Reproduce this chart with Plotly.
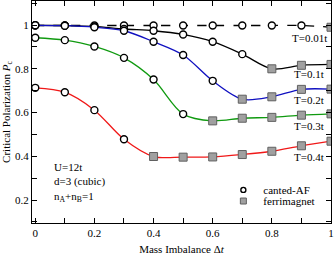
import plotly.graph_objects as go

# ---- data ----
dt = [0.0, 0.1, 0.2, 0.3, 0.4, 0.5, 0.6, 0.7, 0.8, 0.9, 1.0]
T_labels = ["T=0.01t", "T=0.1t", "T=0.2t", "T=0.3t", "T=0.4t"]
pc_T001 = [0.998, 0.998, 0.998, 0.998, 0.998, 0.998, 0.998, 0.998, 0.998, 0.998, 0.990]
pc_T01 = [0.999, 0.998, 0.994, 0.982, 0.974, 0.957, 0.924, 0.867, 0.800, 0.816, 0.820]
pc_T02 = [0.999, 0.997, 0.990, 0.974, 0.924, 0.863, 0.745, 0.661, 0.672, 0.706, 0.707]
pc_T03 = [0.942, 0.931, 0.902, 0.850, 0.751, 0.593, 0.562, 0.574, 0.578, 0.588, 0.594]
pc_T04 = [0.713, 0.693, 0.611, 0.478, 0.399, 0.396, 0.397, 0.408, 0.423, 0.448, 0.469]
# index of first ferrimagnet point for each temperature
first_ferri = [10, 8, 7, 6, 4]
x_tickvals = [0, 0.2, 0.4, 0.6, 0.8, 1.0]
x_ticktext = ["0", "0.2", "0.4", "0.6", "0.8", "1"]
y_tickvals = [0.2, 0.4, 0.6, 0.8, 1.0]
y_ticktext = ["0.2", "0.4", "0.6", "0.8", "1"]

series = [pc_T001, pc_T01, pc_T02, pc_T03, pc_T04]
colors = ["black", "black", "#1010c0", "#109a10", "#f01818"]
dashes = ["dash", "solid", "solid", "solid", "solid"]
label_pos_x = 0.926
label_pos_y = [0.94, 0.776, 0.657, 0.538, 0.396]

FONT = "Liberation Serif, Times New Roman, serif"

fig = go.Figure()
for s, c, d in zip(series, colors, dashes):
    fig.add_trace(go.Scatter(x=dt, y=s, mode="lines", line=dict(color=c, width=1.3, dash=d, shape="spline", smoothing=0.9),
                             showlegend=False, hoverinfo="skip"))

cx, cy, sx, sy = [], [], [], []
for s, k in zip(series, first_ferri):
    cx += dt[:k]; cy += s[:k]
    sx += dt[k:]; sy += s[k:]

circ = dict(symbol="circle", color="white", line=dict(color="black", width=1.4))
sq = dict(symbol="square", color="#a0a0a0", line=dict(color="#606060", width=1))

fig.add_trace(go.Scatter(x=cx, y=cy, mode="markers", showlegend=False, marker=dict(size=7, **circ)))
fig.add_trace(go.Scatter(x=sx, y=sy, mode="markers", showlegend=False, marker=dict(size=8, **sq)))
# legend entries
fig.add_trace(go.Scatter(x=[None], y=[None], mode="markers", name="canted-AF", legend="legend",
                         marker=dict(size=5, **circ)))
fig.add_trace(go.Scatter(x=[None], y=[None], mode="markers", name="ferrimagnet", legend="legend2",
                         marker=dict(size=6, **sq)))

for lab, ly in zip(T_labels, label_pos_y):
    fig.add_annotation(x=label_pos_x, y=ly, text=lab, showarrow=False, xanchor="center", yanchor="middle",
                       font=dict(family=FONT, size=11, color="black"))

fig.add_annotation(x=0.055, y=0.389, text="U=12t<br>d=3 (cubic)<br>n<sub>A</sub>+n<sub>B</sub>=1",
                   showarrow=False, xanchor="left", yanchor="top", align="left",
                   font=dict(family=FONT, size=11, color="black"))

axis_common = dict(showline=True, linecolor="black", linewidth=1.3, mirror="ticks", ticks="inside",
                   ticklen=5, tickwidth=1, tickcolor="black", showgrid=False, zeroline=False,
                   tickfont=dict(family=FONT, size=11, color="black"),
                   minor=dict(ticks="inside", ticklen=5, tickwidth=1, tickcolor="black", dtick=0.1))

fig.update_xaxes(range=[-0.011, 1.0], tickmode="array", tickvals=x_tickvals, ticktext=x_ticktext,
                 title=dict(text="Mass Imbalance Δ<i>t</i>", font=dict(family=FONT, size=11, color="black"), standoff=6),
                 **axis_common)
fig.update_yaxes(range=[0.095, 1.11], tickmode="array", tickvals=y_tickvals, ticktext=y_ticktext,
                 title=dict(text="Critical Polarization <i>P</i><sub>c</sub>", font=dict(family=FONT, size=11, color="black"), standoff=4),
                 **axis_common)

leg_common = dict(xanchor="left", yanchor="middle", bgcolor="rgba(0,0,0,0)",
                  font=dict(family=FONT, size=11, color="black"), itemwidth=30, tracegroupgap=0)
fig.update_layout(width=335, height=256, margin=dict(l=32, r=4, t=1, b=33),
                  paper_bgcolor="white", plot_bgcolor="white",
                  legend=dict(x=0.64, y=0.149, **leg_common),
                  legend2=dict(x=0.64, y=0.099, **leg_common))

fig.write_html("out.html", config={"displayModeBar": False},
               post_script="document.body.style.margin='0';document.body.style.overflow='hidden';")
